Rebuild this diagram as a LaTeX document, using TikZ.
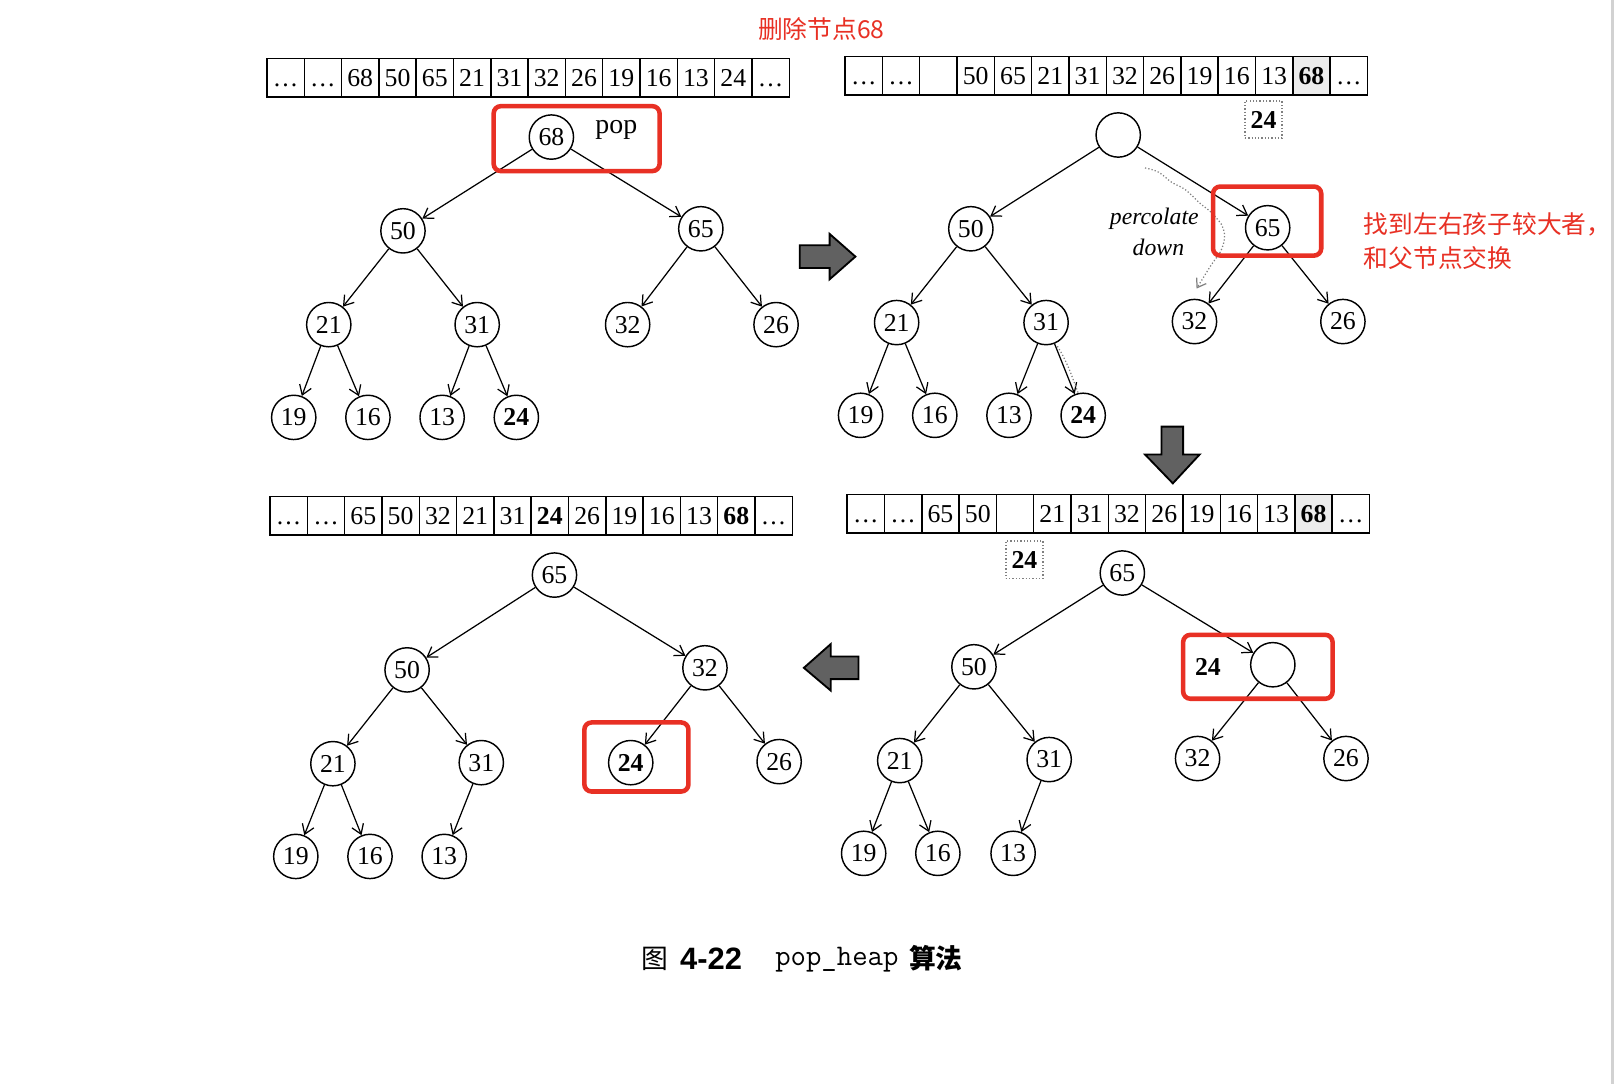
\documentclass[tikz,border=0pt]{standalone}
\usepackage{fontspec}
\setmainfont{Liberation Serif}
\newfontfamily\cjk{Noto Sans CJK SC}
\newfontfamily\hv{Liberation Sans}
\usetikzlibrary{arrows.meta}
\definecolor{annred}{RGB}{232,48,36}
\newcommand{\dts}{.\kern1pt.\kern1pt.}
\newcommand{\heaparr}[4]{%
  \foreach \s/\t [count=\i] in {#4} {
    \node[\s] (#1\i) at ({#2+(\i-0.5)*36.2},{#3+18.5}) {\t};
  }%
}
\begin{document}
\begin{tikzpicture}[x=0.5pt,y=-0.5pt,
  nd/.style={circle,draw,line width=0.7pt,minimum size=21.5pt,inner sep=0pt,font=\fontsize{12.5}{14}\selectfont},
  ndb/.style={nd,font=\fontsize{12.5}{14}\selectfont\bfseries},
  arw/.style={-{Straight Barb[length=4.5pt,width=6pt]},line width=0.6pt},
  cell/.style={draw,line width=0.7pt,minimum width=18.1pt,minimum height=18.5pt,inner sep=0pt,text height=8.6pt,text depth=0pt,font=\fontsize{12.5}{14}\selectfont},
  cellb/.style={cell,font=\fontsize{12.5}{14}\selectfont\bfseries},
  cellg/.style={cellb,fill=gray!15},
  redbox/.style={draw=annred,line width=2.2pt,rounded corners=3.5pt},
  dotbox/.style={draw=gray,densely dotted,line width=0.6pt,minimum size=18pt,inner sep=0pt,font=\fontsize{12.5}{14}\selectfont\bfseries},
  fatarrow/.style={fill=black!62,draw=black,line width=0.9pt,line join=miter},
  perc/.style={gray,densely dotted,line width=0.6pt},
  rtxt/.style={text=annred,font=\cjk\fontsize{12}{14}\selectfont,inner sep=0pt}
]
\useasboundingbox (0,0) rectangle (1568,1052);
\fill[white] (0,0) rectangle (1568,1052);
\draw[gray!35,line width=1.5pt] (1565,0) -- (1565,1052);

% title
\node[rtxt] (title) at (797,28) {删除节点68};

% ---------- Panel 1 ----------
\heaparr{A}{259}{57}{cell/\dts,cell/\dts,cell/68,cell/50,cell/65,cell/21,cell/31,cell/32,cell/26,cell/19,cell/16,cell/13,cell/24,cell/\dts}
\node[nd] (a68) at (535,133) {68};
\node[nd] (a50) at (391,224) {50};
\node[nd] (a65) at (680,222) {65};
\node[nd] (a21) at (319,315) {21};
\node[nd] (a31) at (463,315) {31};
\node[nd] (a32) at (609,315) {32};
\node[nd] (a26) at (753,315) {26};
\node[nd] (a19) at (285,405) {19};
\node[nd] (a16) at (357,405) {16};
\node[nd] (a13) at (429,405) {13};
\node[ndb] (a24) at (501,405) {24};
\node[font=\fontsize{13.5}{15}\selectfont,inner sep=0pt] (pop) at (598,126) {pop};
\foreach \p/\c in {a68/a50,a68/a65,a50/a21,a50/a31,a65/a32,a65/a26,a21/a19,a21/a16,a31/a13,a31/a24}
  \draw[arw] (\p) -- (\c);
\draw[redbox] (479,103) rectangle (640,166);

% right arrow
\draw[fatarrow] (776,238) -- (805,238) -- (805,227) -- (830,249) -- (805,271) -- (805,260) -- (776,260) -- cycle;

% ---------- Panel 2 ----------
\heaparr{B}{820}{55}{cell/\dts,cell/\dts,cell/{},cell/50,cell/65,cell/21,cell/31,cell/32,cell/26,cell/19,cell/16,cell/13,cellg/68,cell/\dts}
\node[dotbox] (b24box) at (1226,116) {24};
\node[nd] (b0) at (1085,131) {};
\node[nd] (b50) at (942,222) {50};
\node[nd] (b65) at (1230,221) {65};
\node[nd] (b21) at (870,313) {21};
\node[nd] (b31) at (1015,313) {31};
\node[nd] (b32) at (1159,312) {32};
\node[nd] (b26) at (1303,312) {26};
\node[nd] (b19) at (835,403) {19};
\node[nd] (b16) at (907,403) {16};
\node[nd] (b13) at (979,403) {13};
\node[ndb] (b24) at (1051,403) {24};
\foreach \p/\c in {b0/b50,b0/b65,b50/b21,b50/b31,b65/b32,b65/b26,b21/b19,b21/b16,b31/b13,b31/b24}
  \draw[arw] (\p) -- (\c);
\node[font=\itshape\fontsize{11.5}{13}\selectfont,inner sep=0pt] (perc1) at (1120,212) {percolate};
\node[font=\itshape\fontsize{11.5}{13}\selectfont,inner sep=0pt] (perc2) at (1124,240) {down};
\coordinate (pc0) at (1111,163);
\coordinate (pc1) at (1161,280);
\draw[perc,-{Straight Barb[length=4pt,width=5.5pt]}] plot[smooth,tension=0.7] coordinates {(pc0) (1124,167) (1137,177) (1150,184) (1164,197) (1176,207) (1187,222) (1186,240) (1174,259) (pc1)};
\draw[perc] (1026,336) .. controls (1036,352) and (1040,365) .. (1046,381);
\draw[redbox] (1177,181) rectangle (1282,248);
\node[rtxt,anchor=west] (ann1) at (1323,218) {找到左右孩子较大者，};
\node[rtxt,anchor=west] (ann2) at (1323,250) {和父节点交换};

% down arrow
\draw[fatarrow] (1127,414) -- (1148,414) -- (1148,441) -- (1164,441) -- (1138,469) -- (1111,441) -- (1127,441) -- cycle;

% ---------- Panel 3 ----------
\heaparr{C}{822}{480}{cell/\dts,cell/\dts,cell/65,cell/50,cell/{},cell/21,cell/31,cell/32,cell/26,cell/19,cell/16,cell/13,cellg/68,cell/\dts}
\node[dotbox] (c24box) at (994,543) {24};
\node[nd] (c65) at (1089,556) {65};
\node[nd] (c50) at (945,647) {50};
\node[nd] (c0) at (1235,645) {};
\node[nd] (c21) at (873,738) {21};
\node[nd] (c31) at (1018,737) {31};
\node[nd] (c32) at (1162,736) {32};
\node[nd] (c26) at (1306,736) {26};
\node[nd] (c19) at (838,828) {19};
\node[nd] (c16) at (910,828) {16};
\node[nd] (c13) at (983,828) {13};
\node[font=\fontsize{12.5}{14}\selectfont\bfseries,inner sep=0pt] (c24) at (1172,647) {24};
\foreach \p/\c in {c65/c50,c65/c0,c50/c21,c50/c31,c0/c32,c0/c26,c21/c19,c21/c16,c31/c13}
  \draw[arw] (\p) -- (\c);
\draw[redbox] (1148,616) rectangle (1293,678);

% left arrow
\draw[fatarrow] (833,637) -- (806,637) -- (806,625) -- (780,648) -- (806,670) -- (806,659) -- (833,659) -- cycle;

% ---------- Panel 4 ----------
\heaparr{D}{262}{482}{cell/\dts,cell/\dts,cell/65,cell/50,cell/32,cell/21,cell/31,cellb/24,cell/26,cell/19,cell/16,cell/13,cellb/68,cell/\dts}
\node[nd] (d65) at (538,558) {65};
\node[nd] (d50) at (395,650) {50};
\node[nd] (d32) at (684,648) {32};
\node[nd] (d21) at (323,741) {21};
\node[nd] (d31) at (467,740) {31};
\node[ndb] (d24) at (612,740) {24};
\node[nd] (d26) at (756,739) {26};
\node[nd] (d19) at (287,831) {19};
\node[nd] (d16) at (359,831) {16};
\node[nd] (d13) at (431,831) {13};
\foreach \p/\c in {d65/d50,d65/d32,d50/d21,d50/d31,d32/d24,d32/d26,d21/d19,d21/d16,d31/d13}
  \draw[arw] (\p) -- (\c);
\draw[redbox] (567,701) rectangle (668,768);

% caption
\node[font=\cjk\fontsize{13}{15}\selectfont,inner sep=0pt] (cap1) at (635,930) {图};
\node[font=\hv\bfseries\fontsize{15}{17}\selectfont,inner sep=0pt] (cap2) at (690,930) {4-22};
\node[font=\ttfamily\fontsize{14.5}{16}\selectfont,inner sep=0pt] (cap3) at (812,931) {pop\_heap};
\node[font=\cjk\bfseries\fontsize{13}{15}\selectfont,inner sep=0pt] (cap4) at (908,930) {算法};
\end{tikzpicture}
\end{document}
